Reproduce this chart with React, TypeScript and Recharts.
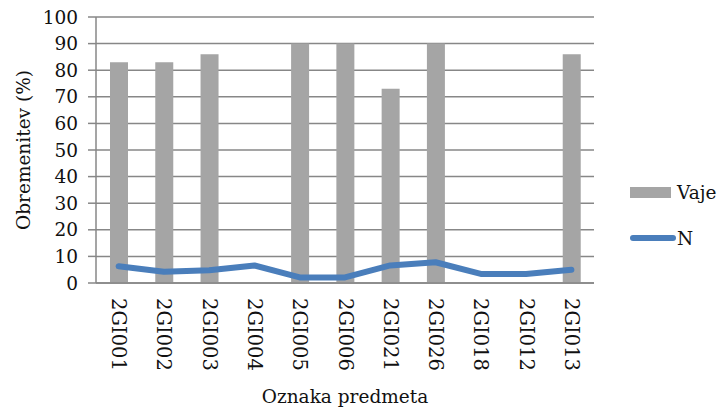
import React from 'react';
import { ComposedChart, Bar, Line, XAxis, YAxis, CartesianGrid } from 'recharts';

// Course codes along the x axis
const courses = ['2GI001', '2GI002', '2GI003', '2GI004', '2GI005', '2GI006', '2GI021', '2GI026', '2GI018', '2GI012', '2GI013'];
// Workload for exercises (Vaje), null where no bar is shown
const vaje = [83, 83, 86, null, 90, 90, 73, 90, null, null, 86];
// Workload N
const nValues = [6.3, 4.2, 4.8, 6.6, 2.1, 2.1, 6.6, 7.8, 3.4, 3.4, 5.0];
const yTicks = [0, 10, 20, 30, 40, 50, 60, 70, 80, 90, 100];

const FONT = '"DejaVu Serif", serif';
const BAR_COLOR = '#a5a5a5';
const LINE_COLOR = '#4a7ebb';
const GRID_COLOR = '#878787';

const data = courses.map((c, i) => ({ name: c, vaje: vaje[i], n: nValues[i] }));

const XTick = (props: any) => {
    const { x, y, payload } = props;
    return (
        <text
            transform={`translate(${x},${y}) rotate(90)`}
            textAnchor="start"
            dominantBaseline="central"
            fontFamily={FONT}
            fontSize={19.5}
            fill="#111"
        >
            {payload.value}
        </text>
    );
};

const YLabel = (props: any) => {
    const { viewBox } = props;
    const cx = viewBox.x + 23;
    const cy = viewBox.y + viewBox.height / 2;
    return (
        <text
            transform={`translate(${cx},${cy}) rotate(-90)`}
            textAnchor="middle"
            dominantBaseline="central"
            fontFamily={FONT}
            fontSize={18.5}
            fill="#111"
        >
            Obremenitev (%)
        </text>
    );
};

const XLabel = (props: any) => {
    const { viewBox } = props;
    const cx = viewBox.x + viewBox.width / 2;
    return (
        <text x={cx} y={403} textAnchor="middle" fontFamily={FONT} fontSize={18.5} fill="#111">
            Oznaka predmeta
        </text>
    );
};

// legend drawn outside the chart so it doesn't eat plot space
const LegendBox = () => (
    <div style={{ position: 'absolute', left: 630, top: 180, fontFamily: FONT, fontSize: 18.5, color: '#111' }}>
        <div style={{ display: 'flex', alignItems: 'center', height: 24 }}>
            <span style={{ display: 'inline-block', width: 41, height: 11, background: BAR_COLOR, marginRight: 6 }} />
            <span>Vaje</span>
        </div>
        <div style={{ display: 'flex', alignItems: 'center', height: 24, marginTop: 22 }}>
            <span style={{ display: 'inline-block', width: 46, height: 6, borderRadius: 3, background: LINE_COLOR, marginRight: 1 }} />
            <span>N</span>
        </div>
    </div>
);

export default function App() {
    return (
        <div style={{ position: 'absolute', left: 0, top: 0, width: 722, height: 412, background: '#fff' }}>
            <ComposedChart
                width={722}
                height={412}
                data={data}
                margin={{ top: 17, right: 128, bottom: 0, left: 0 }}
                barCategoryGap={0}
            >
                <CartesianGrid vertical={false} stroke={GRID_COLOR} strokeWidth={1.5} />
                <XAxis
                    dataKey="name"
                    height={129}
                    tickLine={false}
                    tickSize={0}
                    tickMargin={15}
                    axisLine={{ stroke: GRID_COLOR, strokeWidth: 1.5 }}
                    tick={<XTick />}
                    interval={0}
                    label={<XLabel />}
                />
                <YAxis
                    width={96}
                    domain={[0, 100]}
                    ticks={yTicks}
                    interval={0}
                    tickSize={8}
                    tickMargin={10}
                    tickLine={{ stroke: GRID_COLOR, strokeWidth: 1.5 }}
                    axisLine={{ stroke: GRID_COLOR, strokeWidth: 1.5 }}
                    tick={{ fontFamily: FONT, fontSize: 18.5, fill: '#111' }}
                    label={<YLabel />}
                />
                <Bar dataKey="vaje" name="Vaje" fill={BAR_COLOR} barSize={18} isAnimationActive={false} />
                <Line
                    dataKey="n"
                    name="N"
                    type="linear"
                    stroke={LINE_COLOR}
                    strokeWidth={6}
                    strokeLinecap="round"
                    strokeLinejoin="round"
                    dot={false}
                    activeDot={false}
                    isAnimationActive={false}
                />
            </ComposedChart>
            <LegendBox />
        </div>
    );
}
